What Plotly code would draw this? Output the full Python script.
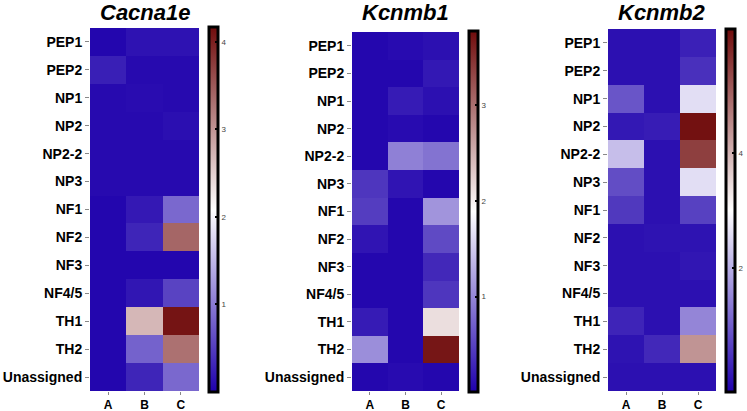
import plotly.graph_objects as go

rows = ["PEP1", "PEP2", "NP1", "NP2", "NP2-2", "NP3", "NF1", "NF2", "NF3", "NF4/5", "TH1", "TH2", "Unassigned"]
cols = ["A", "B", "C"]
genes = ["Cacna1e", "Kcnmb1", "Kcnmb2"]

cacna1e = [
    [0.05, 0.15, 0.15],
    [0.25, 0.08, 0.08],
    [0.08, 0.10, 0.08],
    [0.08, 0.08, 0.12],
    [0.08, 0.08, 0.08],
    [0.08, 0.08, 0.08],
    [0.05, 0.20, 0.85],
    [0.05, 0.30, 3.40],
    [0.05, 0.05, 0.05],
    [0.05, 0.18, 0.55],
    [0.05, 2.70, 4.10],
    [0.05, 0.80, 3.30],
    [0.05, 0.30, 0.85],
]
kcnmb1 = [
    [0.05, 0.08, 0.12],
    [0.05, 0.05, 0.18],
    [0.05, 0.20, 0.12],
    [0.05, 0.08, 0.05],
    [0.05, 0.95, 0.85],
    [0.40, 0.15, 0.05],
    [0.45, 0.05, 1.10],
    [0.15, 0.05, 0.55],
    [0.05, 0.05, 0.30],
    [0.05, 0.05, 0.40],
    [0.20, 0.05, 2.15],
    [1.05, 0.05, 3.70],
    [0.05, 0.08, 0.05],
]
kcnmb2 = [
    [0.05, 0.05, 0.25],
    [0.05, 0.05, 0.45],
    [0.90, 0.05, 2.60],
    [0.15, 0.20, 6.10],
    [2.20, 0.05, 5.50],
    [0.80, 0.05, 2.60],
    [0.55, 0.05, 0.65],
    [0.05, 0.08, 0.08],
    [0.05, 0.05, 0.12],
    [0.05, 0.05, 0.05],
    [0.30, 0.05, 1.50],
    [0.08, 0.35, 4.40],
    [0.05, 0.05, 0.05],
]
data = [cacna1e, kcnmb1, kcnmb2]
zranges = [(0, 4.17), (0, 3.78), (-0.15, 6.16)]
cb_ticks = [[1, 2, 3, 4], [1, 2, 3], [2, 4]]

W, H = 747, 411
heat_px = [(90, 199, 28, 391), (352, 459, 32, 391), (608, 716, 29, 391)]
cb_px = [(209, 27, 392), (469, 31, 392), (726, 29, 392)]
title_x = [145, 405, 662]

cscale = [[0.0, "rgb(30,0,172)"], [0.5, "rgb(255,255,255)"], [1.0, "rgb(112,12,12)"]]

fig = go.Figure()
layout = dict(width=W, height=H, margin=dict(l=0, r=0, t=0, b=0, autoexpand=False),
              paper_bgcolor="white", plot_bgcolor="white", showlegend=False)
annotations = []
for i in range(3):
    x0, x1, y0, y1 = heat_px[i]
    cx, cy0, cy1 = cb_px[i]
    xa = "x" if i == 0 else f"x{i+1}"
    ya = "y" if i == 0 else f"y{i+1}"
    fig.add_trace(go.Heatmap(
        z=data[i], x=cols, y=rows, xaxis=xa, yaxis=ya,
        colorscale=cscale, zmin=zranges[i][0], zmax=zranges[i][1],
        colorbar=dict(x=cx / W, xanchor="left", xpad=0, ypad=0,
                      y=1 - cy1 / H, yanchor="bottom", len=(cy1 - cy0) / H, lenmode="fraction",
                      thickness=9, outlinewidth=3, outlinecolor="black",
                      tickvals=cb_ticks[i], ticks="inside", ticklen=4, tickwidth=2, tickcolor="black",
                      tickfont=dict(size=8, color="#444", family="Liberation Sans")),
        hoverinfo="skip"))
    xk = "xaxis" if i == 0 else f"xaxis{i+1}"
    yk = "yaxis" if i == 0 else f"yaxis{i+1}"
    layout[xk] = dict(domain=[x0 / W, x1 / W], anchor=ya, showgrid=False, zeroline=False,
                      ticks="outside", ticklen=3, tickcolor="#888",
                      tickfont=dict(size=12, family="Liberation Sans", color="black", weight="bold"),
                      showline=False)
    layout[yk] = dict(domain=[1 - y1 / H, 1 - y0 / H], anchor=xa, autorange="reversed",
                      showgrid=False, zeroline=False, ticks="outside", ticklen=4, tickcolor="#888",
                      tickfont=dict(size=14, family="Liberation Sans", color="black", weight="bold"),
                      showline=False)
    annotations.append(dict(text=genes[i], x=title_x[i] / W, y=1 - 13 / H, xref="paper", yref="paper",
                            showarrow=False, xanchor="center", yanchor="middle",
                            font=dict(size=22, family="Liberation Sans", color="black",
                                      weight="bold", style="italic")))
layout["annotations"] = annotations
fig.update_layout(**layout)
fig.write_html("out.html", config={"displayModeBar": False},
               post_script="document.body.style.margin='0';")
